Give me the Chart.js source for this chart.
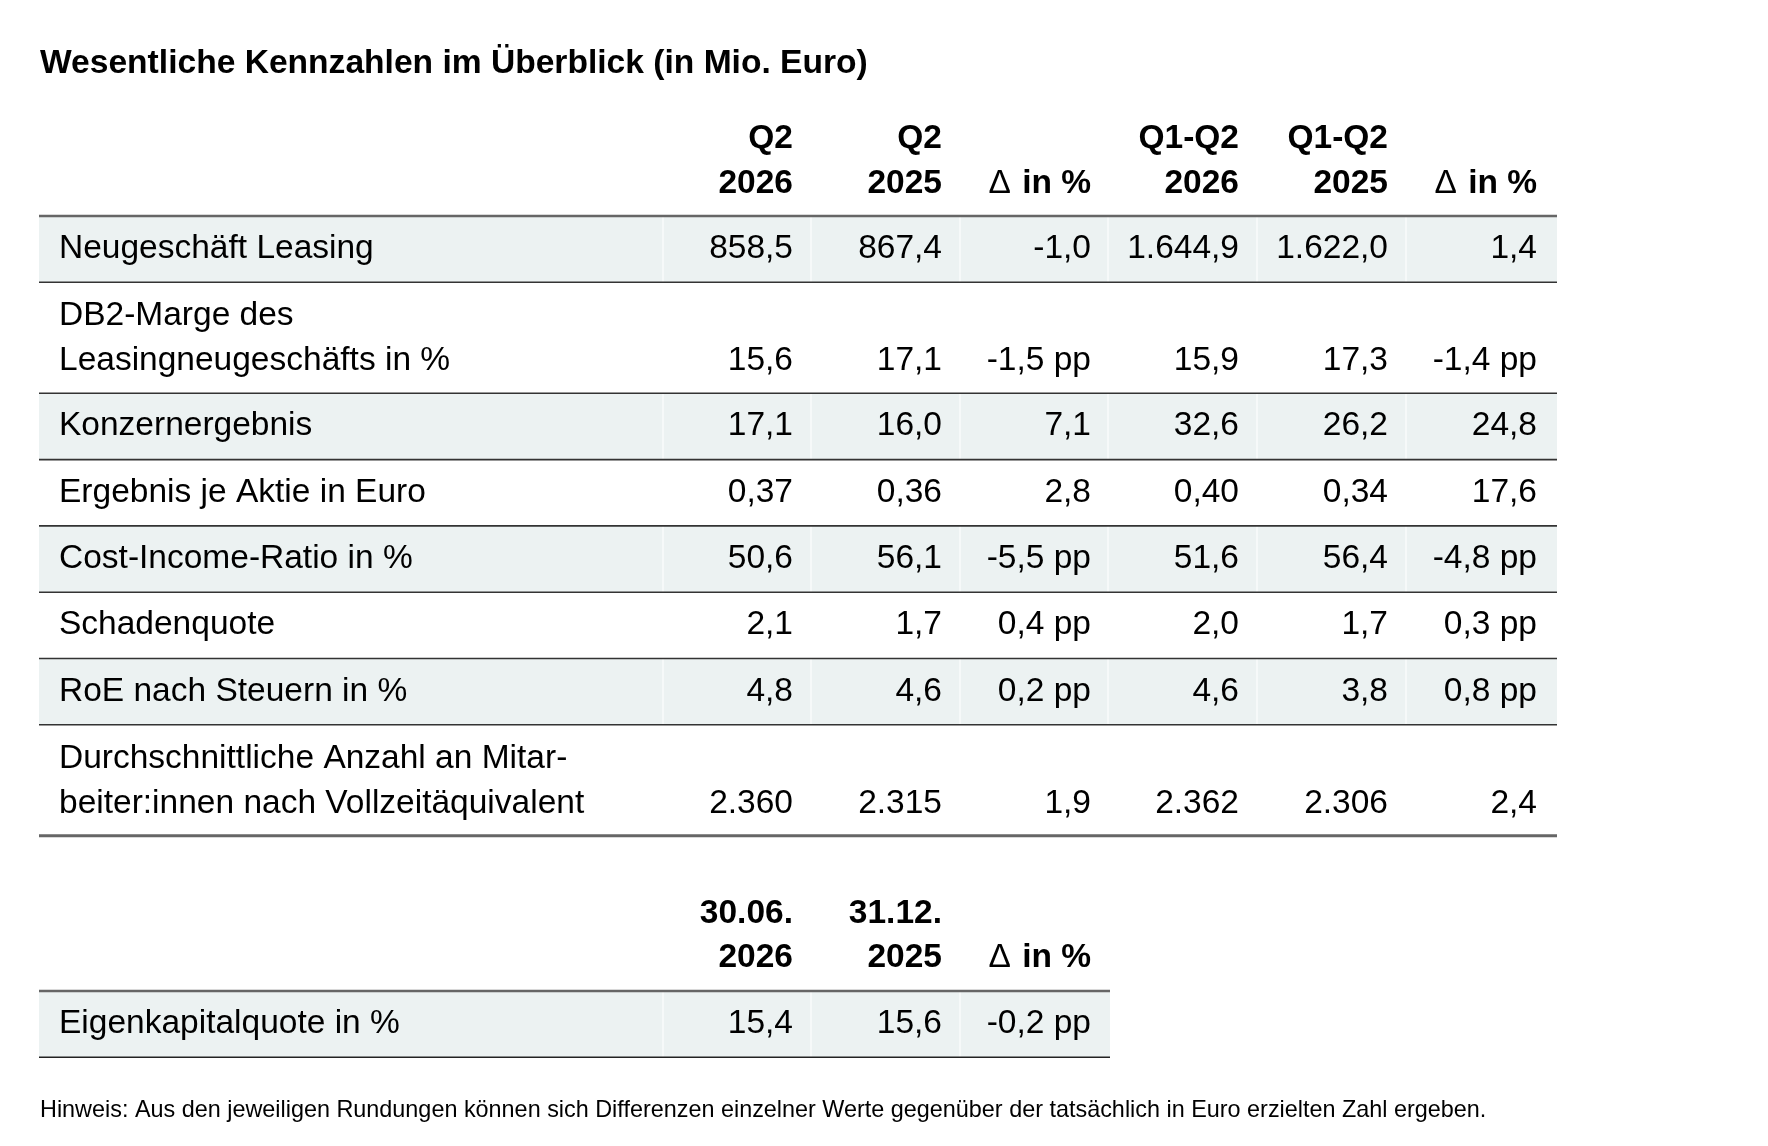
<!DOCTYPE html>
<html lang="de">
<head>
<meta charset="utf-8">
<title>Wesentliche Kennzahlen im Überblick</title>
<script src="https://cdn.jsdelivr.net/npm/chart.js@4.4.1/dist/chart.umd.min.js"></script>
<style>
  html, body { margin: 0; padding: 0; background: #ffffff; }
  #wrap { width: 1768px; height: 1146px; position: relative; }
</style>
</head>
<body>
<div id="wrap"><canvas id="c"></canvas></div>
<script>
// ---------------- DATA ----------------
const title = "Wesentliche Kennzahlen im Überblick (in Mio. Euro)";
const footnote = "Hinweis: Aus den jeweiligen Rundungen können sich Differenzen einzelner Werte gegenüber der tatsächlich in Euro erzielten Zahl ergeben.";

const columnHeaders = [["Q2", "2026"], ["Q2", "2025"], ["", "Δ in %"], ["Q1-Q2", "2026"], ["Q1-Q2", "2025"], ["", "Δ in %"]];

const rowLabels = [
  ["Neugeschäft Leasing"],
  ["DB2-Marge des", "Leasingneugeschäfts in %"],
  ["Konzernergebnis"],
  ["Ergebnis je Aktie in Euro"],
  ["Cost-Income-Ratio in %"],
  ["Schadenquote"],
  ["RoE nach Steuern in %"],
  ["Durchschnittliche Anzahl an Mitar-", "beiter:innen nach Vollzeitäquivalent"]
];
const rowDecimals = [1, 1, 1, 2, 1, 1, 1, 0];
const deltaUnits  = ["", " pp", "", "", " pp", " pp", " pp", ""];

const q2_2026      = [858.5, 15.6, 17.1, 0.37, 50.6, 2.1, 4.8, 2360];
const q2_2025      = [867.4, 17.1, 16.0, 0.36, 56.1, 1.7, 4.6, 2315];
const deltaQ2      = [-1.0, -1.5, 7.1, 2.8, -5.5, 0.4, 0.2, 1.9];
const h1_2026      = [1644.9, 15.9, 32.6, 0.40, 51.6, 2.0, 4.6, 2362];
const h1_2025      = [1622.0, 17.3, 26.2, 0.34, 56.4, 1.7, 3.8, 2306];
const deltaH1      = [1.4, -1.4, 24.8, 17.6, -4.8, 0.3, 0.8, 2.4];

const balanceHeaders = [["30.06.", "2026"], ["31.12.", "2025"], ["", "Δ in %"]];
const balanceLabels  = [["Eigenkapitalquote in %"]];
const eq_20260630    = [15.4];
const eq_20251231    = [15.6];
const eq_delta       = [-0.2];
const balanceDecimals = [1];
const balanceUnits    = [" pp"];

// ---------------- LAYOUT (positions / styles only) ----------------
const FONT = '"Liberation Sans", Arial, Helvetica, sans-serif';
const LAYOUT = {
  width: 1768, height: 1146,
  titleX: 40, titleBase: 73, titleSize: 33.6,
  bodySize: 33.5, footSize: 23.4,
  tableLeft: 39, tableRight: 1557, table2Right: 1110,
  labelX: 59,
  colRight: [793, 942, 1091, 1239, 1388, 1537],
  sepX: [663, 811, 960, 1108, 1257, 1406],
  headBase: [148, 193],
  tableTop: 216,
  singleH: 66.3, doubleH: 111,
  lineGap: 45,
  t2HeadBase: [923, 967],
  t2Top: 991,
  footX: 40, footBase: 1117,
  shade: "#ecf2f2"
};

function fmt(v, d, unit) {
  const neg = v < 0;
  const s = Math.abs(v).toFixed(d);
  let [i, f] = s.split(".");
  i = i.replace(/\B(?=(\d{3})+(?!\d))/g, ".");
  return (neg ? "-" : "") + i + (f ? "," + f : "") + (unit || "");
}

// build table rows
const table1Cols = [q2_2026, q2_2025, deltaQ2, h1_2026, h1_2025, deltaH1];
const table1 = rowLabels.map((lab, r) => ({
  label: lab,
  cells: table1Cols.map((col, c) => (c === 2 || c === 5) ? fmt(col[r], 1, deltaUnits[r]) : fmt(col[r], rowDecimals[r], ""))
}));
const table2Cols = [eq_20260630, eq_20251231, eq_delta];
const table2 = balanceLabels.map((lab, r) => ({
  label: lab,
  cells: table2Cols.map((col, c) => c === 2 ? fmt(col[r], 1, balanceUnits[r]) : fmt(col[r], balanceDecimals[r], ""))
}));

// ---------------- PLUGIN: draws the table through the chart scales ----------------
const tablePlugin = {
  id: "kennzahlenTable",
  afterDraw(chart) {
    const ctx = chart.ctx;
    const X = v => chart.scales.x.getPixelForValue(v);
    const Y = v => chart.scales.y.getPixelForValue(v);
    const L = LAYOUT;
    ctx.save();
    ctx.textBaseline = "alphabetic";
    ctx.fillStyle = "#000";

    // title
    ctx.font = `bold ${L.titleSize}px ${FONT}`;
    ctx.textAlign = "left";
    ctx.fillText(title, X(L.titleX), Y(L.titleBase));

    function hline(y, x0, x1, color, w) {
      ctx.beginPath();
      ctx.strokeStyle = color; ctx.lineWidth = w;
      ctx.moveTo(X(x0), Y(y)); ctx.lineTo(X(x1), Y(y)); ctx.stroke();
    }

    function headerText(t, xr, y) {
      const bold = `bold ${L.bodySize}px ${FONT}`;
      const reg = `${L.bodySize}px ${FONT}`;
      ctx.textAlign = "right";
      if (t.charAt(0) === "Δ") {
        const rest = t.slice(1);
        ctx.font = bold;
        ctx.fillText(rest, xr, y);
        const w = ctx.measureText(rest).width;
        ctx.font = reg;
        ctx.fillText("Δ", xr - w - 2, y);
      } else {
        ctx.font = bold;
        ctx.fillText(t, xr, y);
      }
    }

    function drawTable(headers, rows, headBase, top, right, nCols, bottomStyle) {
      // headers
      ctx.fillStyle = "#000";
      headers.forEach((h, c) => {
        h.forEach((t, k) => { if (t) headerText(t, X(L.colRight[c]), Y(headBase[k])); });
      });
      // rows
      let y = top;
      const bounds = [];
      rows.forEach((row, r) => {
        const h = row.label.length > 1 ? L.doubleH : L.singleH;
        if (r % 2 === 0) {
          ctx.fillStyle = L.shade;
          ctx.fillRect(X(L.tableLeft), Y(y), X(right) - X(L.tableLeft), Y(y + h) - Y(y));
        }
        bounds.push([y, h]);
        y += h;
      });
      // separators
      ctx.strokeStyle = "rgba(255,255,255,0.9)";
      ctx.lineWidth = 1.2;
      for (let c = 0; c < nCols; c++) {
        ctx.beginPath();
        ctx.moveTo(X(L.sepX[c]), Y(top)); ctx.lineTo(X(L.sepX[c]), Y(y)); ctx.stroke();
      }
      // text
      ctx.fillStyle = "#000";
      ctx.font = `${L.bodySize}px ${FONT}`;
      rows.forEach((row, r) => {
        const [yt, h] = bounds[r];
        const base2 = row.label.length > 1 ? yt + h - 23 : yt + 42;
        ctx.textAlign = "left";
        row.label.forEach((t, k) => {
          ctx.fillText(t, X(L.labelX), Y(base2 - (row.label.length - 1 - k) * L.lineGap));
        });
        ctx.textAlign = "right";
        row.cells.forEach((t, c) => ctx.fillText(t, X(L.colRight[c]), Y(base2)));
      });
      // horizontal rules
      hline(top, L.tableLeft, right, "#666666", 2.5);
      bounds.forEach(([yt, h], r) => {
        if (r < bounds.length - 1) hline(yt + h, L.tableLeft, right, "#333333", 1.6);
      });
      hline(y, L.tableLeft, right, bottomStyle[0], bottomStyle[1]);
    }

    drawTable(columnHeaders, table1, L.headBase, L.tableTop, L.tableRight, 6, ["#666666", 3]);
    drawTable(balanceHeaders, table2, L.t2HeadBase, L.t2Top, L.table2Right, 3, ["#222222", 1.6]);

    // footnote
    ctx.font = `${L.footSize}px ${FONT}`;
    ctx.textAlign = "left";
    ctx.fillStyle = "#000";
    ctx.fillText(footnote, X(L.footX), Y(L.footBase));
    ctx.restore();
  }
};

new Chart(document.getElementById("c"), {
  type: "scatter",
  data: { datasets: [{ data: [], pointRadius: 0 }] },
  options: {
    responsive: true,
    maintainAspectRatio: false,
    animation: false,
    devicePixelRatio: 1,
    layout: { padding: 0 },
    plugins: { legend: { display: false }, tooltip: { enabled: false }, title: { display: false } },
    scales: {
      x: { type: "linear", min: 0, max: LAYOUT.width, display: false },
      y: { type: "linear", min: 0, max: LAYOUT.height, reverse: true, display: false }
    }
  },
  plugins: [tablePlugin]
});
</script>
</body>
</html>
